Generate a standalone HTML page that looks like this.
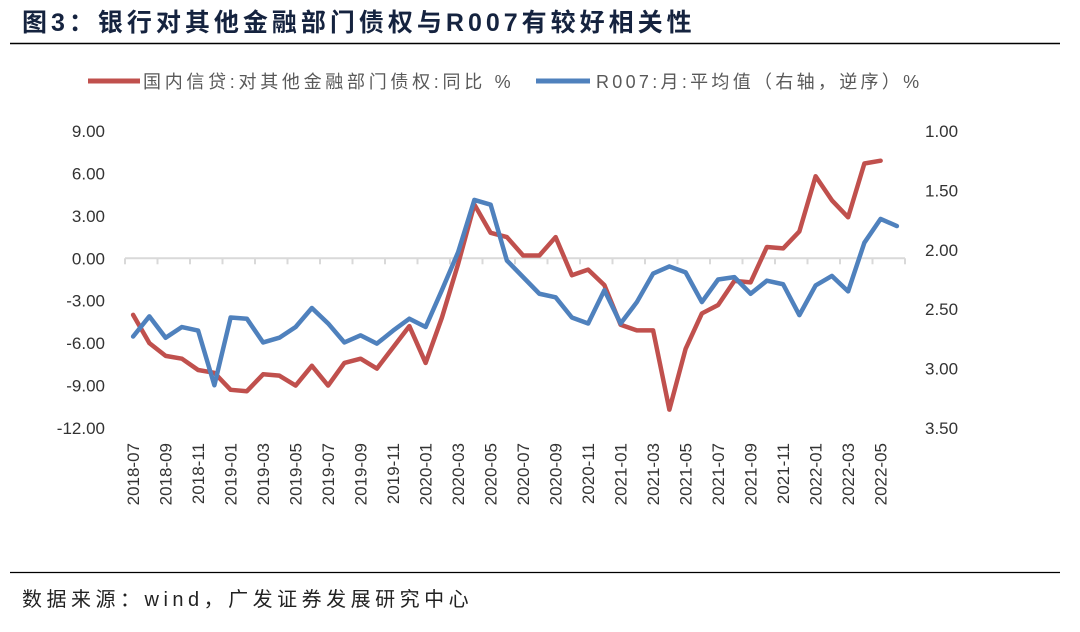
<!DOCTYPE html>
<html><head><meta charset="utf-8">
<style>
body{margin:0;width:1080px;height:632px;background:#fff;overflow:hidden;font-family:"Liberation Sans","Noto Sans CJK SC",sans-serif;}
svg{position:absolute;left:0;top:0}
</style></head>
<body>
<svg width="1080" height="632">
<text x="22" y="31" font-size="25" font-weight="bold" fill="#15233f" letter-spacing="4">图3：银行对其他金融部门债权与R007有较好相关性</text>
<line x1="10" y1="43.5" x2="1060" y2="43.5" stroke="#000" stroke-width="1.5"/>
<g>
<line x1="88" y1="81" x2="140" y2="81" stroke="#c0504d" stroke-width="5"/>
<text x="143" y="88" font-size="18" fill="#595959" letter-spacing="3.7">国内信贷:对其他金融部门债权:同比 %</text>
<line x1="536" y1="81" x2="590" y2="81" stroke="#4f81bd" stroke-width="5"/>
<text x="596" y="88" font-size="18" fill="#595959" letter-spacing="3.3">R007:月:平均值（右轴，逆序）%</text>
</g>
<g id="axes"></g>
<g id="marks"></g>
<line x1="10" y1="572.5" x2="1060" y2="572.5" stroke="#000" stroke-width="1.2"/>
<text x="22" y="606" font-size="20" fill="#222" letter-spacing="4.5">数据来源：wind，广发证券发展研究中心</text>
</svg>
<script>
const credit=[-4.0,-6.0,-6.9,-7.1,-7.9,-8.1,-9.3,-9.4,-8.2,-8.3,-9.0,-7.6,-9.0,-7.4,-7.1,-7.8,-6.3,-4.8,-7.4,-4.2,-0.4,3.8,1.8,1.5,0.2,0.2,1.5,-1.2,-0.8,-1.9,-4.7,-5.1,-5.1,-10.7,-6.4,-3.9,-3.3,-1.6,-1.7,0.8,0.7,1.9,5.8,4.1,2.9,6.7,6.9];
const r007=[2.73,2.56,2.74,2.65,2.68,3.14,2.57,2.58,2.78,2.74,2.65,2.49,2.62,2.78,2.72,2.79,2.68,2.58,2.65,2.34,2.02,1.58,1.62,2.09,2.23,2.37,2.40,2.57,2.62,2.34,2.62,2.44,2.20,2.14,2.19,2.44,2.25,2.23,2.37,2.26,2.29,2.55,2.30,2.22,2.35,1.94,1.74,1.80];
const leftTicks=[9,6,3,0,-3,-6,-9,-12];
const rightTicks=[1.0,1.5,2.0,2.5,3.0,3.5];
const startYear=2018,startMonth=7,nMonths=48;
const NS="http://www.w3.org/2000/svg";
const X0=125,X1=905,YT=131,YB=428;
const xs=i=>X0+(X1-X0)/nMonths*(i+0.5);
const yL=v=>YT+(9-v)/(9-(-12))*(YB-YT);
const yR=v=>YT+(v-1.0)/(3.5-1.0)*(YB-YT);
const axes=document.getElementById('axes'),marks=document.getElementById('marks');
function mk(tag,attrs,parent){const e=document.createElementNS(NS,tag);for(const k in attrs)e.setAttribute(k,attrs[k]);parent.appendChild(e);return e;}
const base=mk('line',{x1:X0,x2:X1,y1:yL(0),y2:yL(0),stroke:'#d9d9d9','stroke-width':2},axes);


for(let i=0;i<=nMonths;i+=2){const x=X0+(X1-X0)/nMonths*i;const t=mk('line',{x1:x,x2:x,y1:yL(0),y2:yL(0)+6,stroke:'#d9d9d9','stroke-width':2},axes);

}
leftTicks.forEach(v=>{const t=mk('text',{x:105,y:yL(v)+6,'font-size':17,fill:'#333','text-anchor':'end'},axes);t.textContent=v.toFixed(2);

});
rightTicks.forEach(v=>{const t=mk('text',{x:925,y:yR(v)+6,'font-size':17,fill:'#333'},axes);t.textContent=v.toFixed(2);

});
for(let i=0;i<nMonths;i+=2){const m=startMonth-1+i;const y=startYear+Math.floor(m/12);const mo=String(m%12+1).padStart(2,'0');
const x=xs(i)+6;const t=mk('text',{x:x,y:443,'font-size':17,fill:'#333','text-anchor':'end',transform:`rotate(-90 ${x} 443)`},axes);t.textContent=y+'-'+mo;

}
const pc=mk('polyline',{points:credit.map((v,i)=>xs(i)+','+yL(v)).join(' '),fill:'none',stroke:'#c0504d','stroke-width':4.5,'stroke-linejoin':'round','stroke-linecap':'round'},marks);


const pr=mk('polyline',{points:r007.map((v,i)=>xs(i)+','+yR(v)).join(' '),fill:'none',stroke:'#4f81bd','stroke-width':4.5,'stroke-linejoin':'round','stroke-linecap':'round'},marks);


</script>
</body></html>
